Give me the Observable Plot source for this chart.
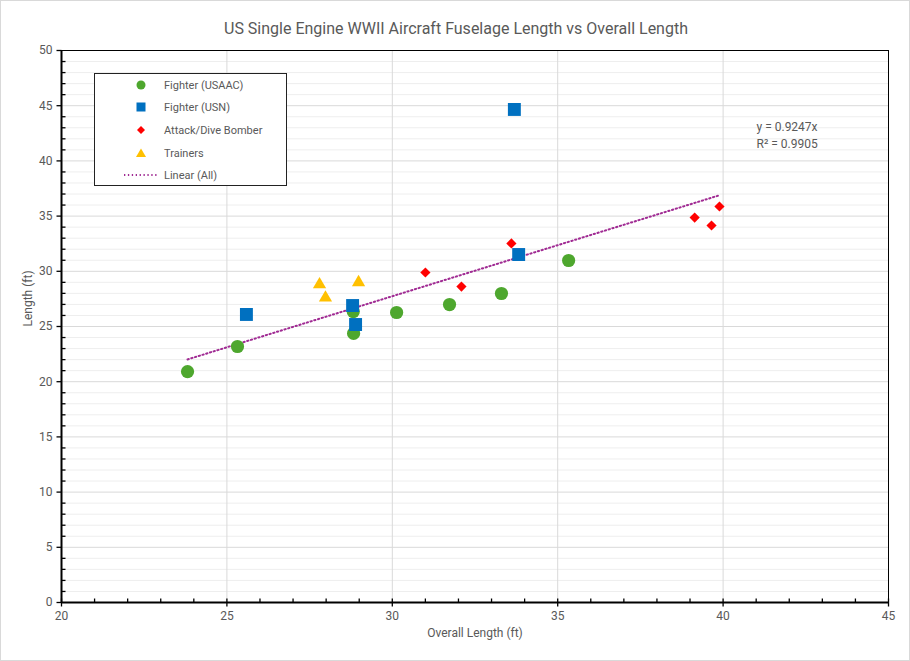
<!DOCTYPE html>
<html><head><meta charset="utf-8">
<script src="https://cdn.jsdelivr.net/npm/d3@7"></script>
<script src="https://cdn.jsdelivr.net/npm/@observablehq/plot@0.6"></script>
<style>
body{margin:0;background:#fff;font-family:Roboto,"Open Sans",sans-serif;}
#wrap{position:relative;width:910px;height:661px;overflow:hidden;}
#border{position:absolute;left:0;top:0;width:910px;height:661px;box-sizing:border-box;border:1px solid #d9d9d9;pointer-events:none;}
#legend{position:absolute;left:94px;top:73px;width:193px;height:113px;box-sizing:border-box;border:1px solid #222;background:#fff;}
.item{position:absolute;left:0;height:14px;display:flex;align-items:center;font-size:11px;color:#595959;}
.item svg{width:40px;height:14px;margin-left:26px;margin-right:3px;}
</style></head><body>
<div id="wrap"><div id="chart"></div><div id="legend"></div><div id="border"></div></div>
<script>
const title = "US Single Engine WWII Aircraft Fuselage Length vs Overall Length";
const xLabel = "Overall Length (ft)";
const yLabel = "Length (ft)";
const seriesNames = ["Fighter (USAAC)", "Fighter (USN)", "Attack/Dive Bomber", "Trainers"];
const seriesColors = ["#4ea72e", "#0070c0", "#ff0000", "#ffc000"];
const trendName = "Linear (All)";
const trendColor = "#a02b93";

// Fighter (USAAC)
const usaacX = [23.81, 25.32, 28.83, 28.82, 30.13, 31.73, 33.30, 35.33];
const usaacY = [20.92, 23.19, 24.37, 26.35, 26.27, 26.99, 27.99, 30.98];
// Fighter (USN)
const usnX = [25.59, 28.80, 28.89, 33.69, 33.82];
const usnY = [26.09, 26.90, 25.18, 44.66, 31.52];
// Attack/Dive Bomber
const attackX = [31.00, 32.09, 33.60, 39.14, 39.65, 39.89];
const attackY = [29.89, 28.62, 32.52, 34.87, 34.15, 35.87];
// Trainers
const trainerX = [27.80, 27.98, 28.98];
const trainerY = [28.80, 27.60, 28.99];

const trendSlope = 0.9247;
const trendR2 = 0.9905;
const xTicks = [20, 25, 30, 35, 40, 45];
const yTicks = [0, 5, 10, 15, 20, 25, 30, 35, 40, 45, 50];
const xMinor = d3.range(21, 45).filter(v => v % 5 !== 0);
const yMinor = d3.range(1, 50).filter(v => v % 5 !== 0);

const pts = (xs, ys) => xs.map((x, i) => ({x, y: ys[i]}));
const usaac = pts(usaacX, usaacY);
const usn = pts(usnX, usnY);
const attack = pts(attackX, attackY);
const trainers = pts(trainerX, trainerY);
const allX = [...usaacX, ...usnX, ...attackX, ...trainerX];
const trend = d3.extent(allX).map(x => ({x, y: trendSlope * x}));

const sym = (f) => ({draw(ctx){ f(ctx); }});
const tickUp = sym(c => {c.moveTo(0, 0); c.lineTo(0, -4);});
const tickCross = sym(c => {c.moveTo(0, -4); c.lineTo(0, 4);});
const tickRight = sym(c => {c.moveTo(0, 0); c.lineTo(4, 0);});
const tickLeft = sym(c => {c.moveTo(0, 0); c.lineTo(-5, 0);});

const txt = "#595959";
const chart = Plot.plot({
  width: 910, height: 661,
  marginLeft: 61, marginRight: 22, marginTop: 50, marginBottom: 59,
  style: {fontFamily: "Roboto, 'Open Sans', sans-serif", background: "#fff"},
  x: {domain: [20, 45]},
  y: {domain: [0, 50]},
  marks: [
    Plot.gridY(yMinor, {stroke: "#eeeeee", strokeOpacity: 1}),
    Plot.gridY(yTicks.filter(v => v > 0 && v < 50), {stroke: "#d9d9d9", strokeOpacity: 1}),
    Plot.gridX(xTicks.filter(v => v > 20 && v < 45), {stroke: "#d9d9d9", strokeOpacity: 1}),
    Plot.frame({stroke: "#000", strokeWidth: 1}),
    Plot.ruleY([0], {stroke: "#000", strokeWidth: 2}),
    Plot.ruleX([20], {stroke: "#000", strokeWidth: 2}),
    Plot.dot(xMinor, {x: d => d, y: 0, symbol: tickUp, stroke: "#000", strokeWidth: 1.3, fill: "none"}),
    Plot.dot(xTicks, {x: d => d, y: 0, symbol: tickCross, stroke: "#000", strokeWidth: 1.3, fill: "none"}),
    Plot.dot(yMinor, {x: 20, y: d => d, symbol: tickRight, stroke: "#000", strokeWidth: 1.3, fill: "none"}),
    Plot.dot(yTicks, {x: 20, y: d => d, symbol: tickLeft, stroke: "#000", strokeWidth: 1.3, fill: "none"}),
    Plot.axisX({ticks: xTicks, tickSize: 0, tickPadding: 9, fontSize: 12, color: txt, label: null}),
    Plot.axisY({ticks: yTicks, tickSize: 0, tickPadding: 9, fontSize: 12, color: txt, label: null}),
    Plot.line(trend, {x: "x", y: "y", stroke: trendColor, strokeWidth: 2, strokeDasharray: "1.3,2.6"}),
    Plot.dot(usaac, {x: "x", y: "y", r: 6.6, fill: seriesColors[0], symbol: "circle"}),
    Plot.dot(usn, {x: "x", y: "y", r: 7.3, fill: seriesColors[1], symbol: "square"}),
    Plot.dot(attack, {x: "x", y: "y", r: 4.6, fill: seriesColors[2], symbol: "diamond2"}),
    Plot.dot(trainers, {x: "x", y: "y", r: 4.9, fill: seriesColors[3], symbol: "triangle"}),
    Plot.text([title], {frameAnchor: "top", dx: -19, dy: -28, fontSize: 16, fill: txt}),
    Plot.text([xLabel], {frameAnchor: "bottom", dy: 34, fontSize: 12, fill: txt}),
    Plot.text([yLabel], {frameAnchor: "left", dx: -33, rotate: -90, fontSize: 12, fill: txt}),
    Plot.text([`y = ${trendSlope}x`], {frameAnchor: "top-left", dx: 695, dy: 72, fontSize: 12, fill: txt, textAnchor: "start"}),
    Plot.text([`R² = ${trendR2}`], {frameAnchor: "top-left", dx: 695, dy: 89, fontSize: 12, fill: txt, textAnchor: "start"})
  ]
});
document.getElementById("chart").appendChild(chart);

// legend
const legend = document.getElementById("legend");
const markers = [
  `<circle cx="20" cy="7" r="4.5" fill="${seriesColors[0]}"/>`,
  `<rect x="15.5" y="2.5" width="9" height="9" fill="${seriesColors[1]}"/>`,
  `<path d="M20,3 L24,7 L20,11 L16,7Z" fill="${seriesColors[2]}"/>`,
  `<path d="M20,2.5 L25,11 L15,11Z" fill="${seriesColors[3]}"/>`,
  `<line x1="3" y1="7" x2="36" y2="7" stroke="${trendColor}" stroke-width="1.8" stroke-dasharray="1.3,2.6"/>`
];
const labels = [...seriesNames, trendName];
const tops = [4, 26, 49, 72, 94];
labels.forEach((name, i) => {
  const d = document.createElement("div");
  d.className = "item";
  d.style.top = tops[i] + "px";
  d.innerHTML = `<svg viewBox="0 0 40 14">${markers[i]}</svg><span>${name}</span>`;
  legend.appendChild(d);
});
</script>
</body></html>
